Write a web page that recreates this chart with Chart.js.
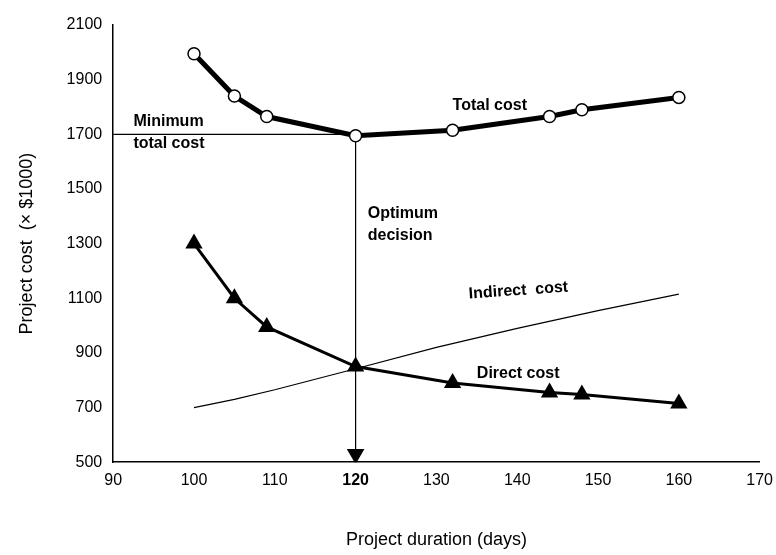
<!DOCTYPE html>
<html><head><meta charset="utf-8">
<script src="https://cdn.jsdelivr.net/npm/chart.js@4"></script>
<style>body{margin:0;background:#fff}#wrap{width:776px;height:555px}</style>
</head><body><div id="wrap"><canvas id="c"></canvas></div>
<script>
// Datos
const duracionTotal = [100, 105, 109, 120, 132, 144, 148, 160];
const costoTotal = [1995, 1840, 1765, 1695, 1715, 1765, 1790, 1835];
const duracionDirecto = [100, 105, 109, 120, 132, 144, 148, 160];
const costoDirecto = [1300, 1100, 995, 850, 790, 755, 748, 715];
const duracionIndirecto = [100, 105, 110, 120, 130, 140, 150, 160];
const costoIndirecto = [700, 730, 765, 842, 920, 990, 1055, 1115];
const minimoX = [90, 120];
const minimoY = [1700, 1700];
const optimoX = [120, 120];
const optimoY = [1700, 530];
const xTicks = [90, 100, 110, 120, 130, 140, 150, 160, 170];
const yTicks = [500, 700, 900, 1100, 1300, 1500, 1700, 1900, 2100];

const pts = (xs, ys) => xs.map((x, i) => ({x: x, y: ys[i]}));
const fuente = "'Liberation Sans', Arial, sans-serif";

// Etiquetas del gráfico
const etiquetas = [
    {x: 132, y: 1805, t: 'Total cost'},
    {x: 92.5, y: 1745, t: 'Minimum'},
    {x: 92.5, y: 1665, t: 'total cost'},
    {x: 121.5, y: 1410, t: 'Optimum'},
    {x: 121.5, y: 1330, t: 'decision'},
    {x: 134, y: 1115, t: 'Indirect  cost', rot: -0.07},
    {x: 135, y: 825, t: 'Direct cost'}
];

const pluginTextos = {
    id: 'textos',
    afterDatasetsDraw(chart) {
        const {ctx, scales: {x, y}} = chart;
        ctx.save();
        ctx.fillStyle = '#000';
        ctx.textBaseline = 'middle';
        etiquetas.forEach(e => {
            ctx.save();
            ctx.font = 'bold 16px ' + fuente;
            ctx.translate(x.getPixelForValue(e.x), y.getPixelForValue(e.y));
            if (e.rot) ctx.rotate(e.rot);
            ctx.fillText(e.t, 0, 0);
            ctx.restore();
        });
        ctx.restore();
    }
};

new Chart(document.getElementById('c'), {
    type: 'scatter',
    data: {
        datasets: [
            {data: pts(duracionTotal, costoTotal), showLine: true, borderColor: '#000', borderWidth: 5,
             pointStyle: 'circle', pointRadius: 6, pointBackgroundColor: '#fff', pointBorderColor: '#000', pointBorderWidth: 1.5},
            {data: pts(duracionDirecto, costoDirecto), showLine: true, borderColor: '#000', borderWidth: 3,
             pointStyle: 'triangle', pointRadius: 7, pointBackgroundColor: '#000', pointBorderColor: '#000'},
            {data: pts(duracionIndirecto, costoIndirecto), showLine: true, borderColor: '#000', borderWidth: 1.2, pointRadius: 0},
            {data: pts(minimoX, minimoY), showLine: true, borderColor: '#000', borderWidth: 1.2, pointRadius: 0},
            {data: pts(optimoX, optimoY), showLine: true, borderColor: '#000', borderWidth: 1.2,
             pointRadius: [0, 9], pointStyle: 'triangle', rotation: 180, pointBackgroundColor: '#000', pointBorderColor: '#000'}
        ]
    },
    options: {
        responsive: true,
        maintainAspectRatio: false,
        animation: false,
        layout: {padding: {top: 25, right: 0, left: 12, bottom: 0}},
        plugins: {legend: {display: false}, tooltip: {enabled: false}},
        scales: {
            x: {
                min: 90, max: 170,
                afterBuildTicks: s => { s.ticks = xTicks.map(v => ({value: v})); },
                grid: {display: false, drawTicks: true, tickLength: 6, tickColor: '#000'},
                border: {color: '#000', width: 1.5},
                ticks: {color: '#000', maxRotation: 0, padding: 3, font: c => ({family: fuente, size: 16, weight: c.tick && c.tick.value === 120 ? 'bold' : 'normal'})},
                title: {display: true, text: 'Project duration (days)', color: '#000', font: {family: fuente, size: 18}, padding: {top: 36}}
            },
            y: {
                min: 500, max: 2100,
                afterBuildTicks: s => { s.ticks = yTicks.map(v => ({value: v})); },
                grid: {display: false, drawTicks: true, tickLength: 6, tickColor: '#000'},
                border: {color: '#000', width: 1.5},
                ticks: {color: '#000', padding: 5, font: {family: fuente, size: 16}, callback: v => String(v)},
                title: {display: true, text: 'Project cost  (× $1000)', color: '#000', font: {family: fuente, size: 18}, padding: {bottom: 24}}
            }
        }
    },
    plugins: [pluginTextos]
});
</script></body></html>
